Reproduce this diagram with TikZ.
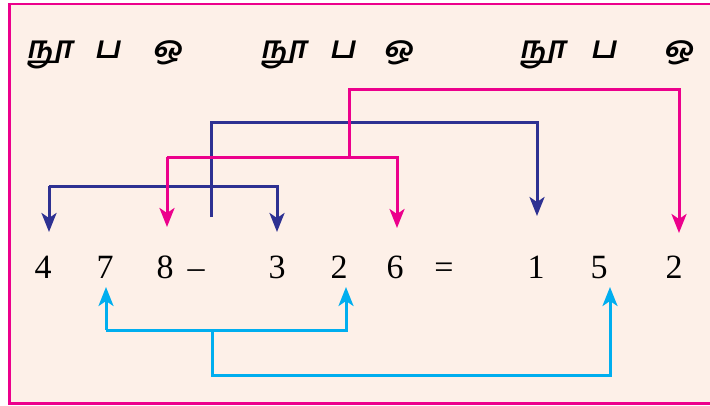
\documentclass[tikz,border=0pt]{standalone}
\usepackage{fontspec}
\setmainfont{Liberation Serif}
\newfontfamily\tamilfont[Script=Tamil,FakeSlant=0.2]{Hind Madurai}
\usetikzlibrary{arrows.meta}
\definecolor{figP}{RGB}{236,0,140}
\definecolor{figN}{RGB}{46,49,146}
\definecolor{figC}{RGB}{0,174,239}
\definecolor{figBg}{RGB}{253,240,232}

\begin{document}
\begin{tikzpicture}[x=1pt,y=-1pt,>={Stealth[length=19pt,width=15pt,inset=5pt]},
  digit/.style={anchor=base,inner sep=0pt,font=\fontsize{34}{40}\selectfont},
  place/.style={anchor=base,inner sep=0pt,font=\tamilfont\bfseries\fontsize{31}{36}\selectfont},
  link/.style={line width=3pt}]
\useasboundingbox (0,0) rectangle (710,405);
\clip (0,0) rectangle (710,405);
\filldraw[figP,fill=figBg,line width=2.5pt] (9.5,4) rectangle (730,403.5);
% place value heads
\node[place] (hA) at (49,58) {நூ};
\node[place] (tA) at (107,58) {ப};
\node[place] (oA) at (167,58) {ஒ};
\node[place] (hB) at (283,58) {நூ};
\node[place] (tB) at (342,58) {ப};
\node[place] (oB) at (398,58) {ஒ};
\node[place] (hC) at (542,58) {நூ};
\node[place] (tC) at (603,58) {ப};
\node[place] (oC) at (678,58) {ஒ};
% the sum
\node[digit] (h1) at (43,278) {4};
\node[digit] (t1) at (105,278) {7};
\node[digit] (o1) at (165,278) {8};
\node[digit] (minus) at (196,278) {–};
\node[digit] (h2) at (277,278) {3};
\node[digit] (t2) at (339,278) {2};
\node[digit] (o2) at (395,278) {6};
\node[digit] (eq) at (444,278) {=};
\node[digit] (h3) at (536,278) {1};
\node[digit] (t3) at (599,278) {5};
\node[digit] (o3) at (674,278) {2};
% hundreds
\coordinate (hL) at (49,186);
\coordinate (hR) at (277,186);
\coordinate (hS) at (211,217);
\coordinate (hT) at (211,122);
\coordinate (hE) at (537,122);
\draw[link,figN,->] (hL) -- ++(0,46);
\draw[link,figN,->] (hL) -- (hR) -- ++(0,46);
\draw[link,figN,->] (hS) -- (hT) -- (hE) -- ++(0,94);
% ones
\coordinate (oL) at (167,157);
\coordinate (oR) at (397,157);
\coordinate (oT) at (349,89);
\coordinate (oE) at (679,89);
\draw[link,figP,->] (oL) -- ++(0,70);
\draw[link,figP,->] (oL) -- (oR) -- ++(0,71);
\draw[link,figP,->] (oR -| oT) -- (oT) -- (oE) -- ++(0,144);
% tens
\coordinate (tL) at (106,330);
\coordinate (tR) at (346,330);
\coordinate (tS) at (212,375);
\coordinate (tE) at (610,375);
\draw[link,figC,->] (tL) -- ++(0,-43);
\draw[link,figC,->] (tL) -- (tR) -- ++(0,-43);
\draw[link,figC,->] (tL -| tS) -- (tS) -- (tE) -- ++(0,-88);
\end{tikzpicture}
\end{document}
